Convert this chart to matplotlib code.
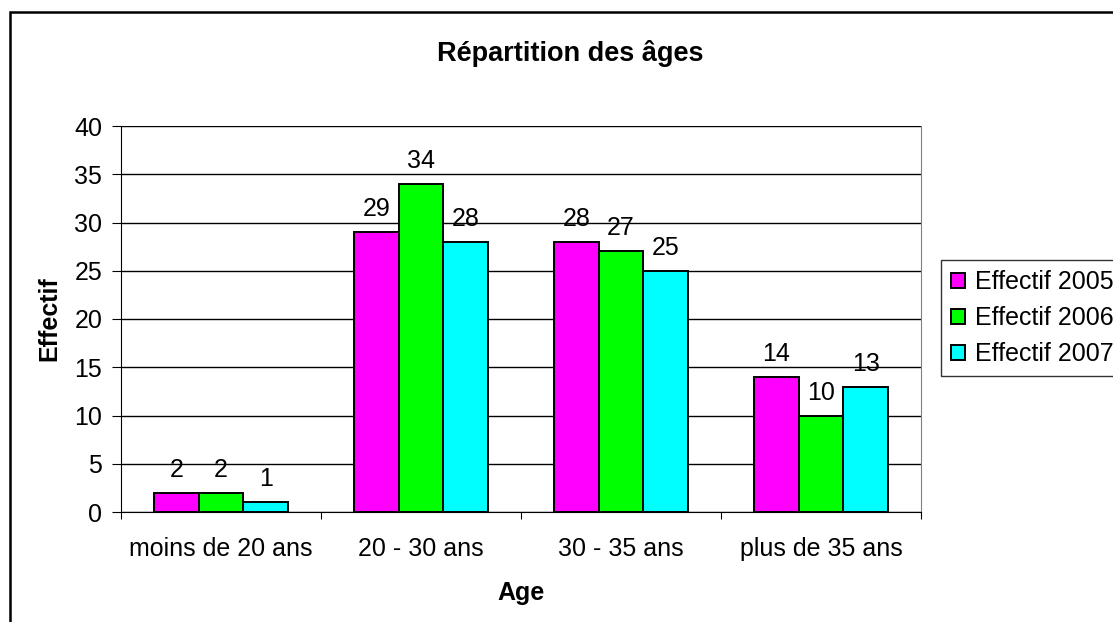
import numpy as np
import matplotlib
matplotlib.use("Agg")
import matplotlib.pyplot as plt
from matplotlib.patches import Rectangle

plt.rcParams['font.family'] = ['Liberation Sans', 'DejaVu Sans']

# data
categories = ["moins de 20 ans", "20 - 30 ans", "30 - 35 ans", "plus de 35 ans"]
series_names = ["Effectif 2005", "Effectif 2006", "Effectif 2007"]
effectif_2005 = [2, 29, 28, 14]
effectif_2006 = [2, 34, 27, 10]
effectif_2007 = [1, 28, 25, 13]
colors = ["#FF00FF", "#00FF00", "#00FFFF"]

W, H = 1113, 622
FS = 18
fig = plt.figure(figsize=(W / 100, H / 100), dpi=100)
ax = fig.add_axes([121 / W, 1 - 512 / H, (921 - 121) / W, (512 - 126) / H])

x = np.arange(len(categories))
width = 0.223
all_series = [effectif_2005, effectif_2006, effectif_2007]
for i, (vals, name, col) in enumerate(zip(all_series, series_names, colors)):
    pos = x + (i - 1) * width
    ax.bar(pos, vals, width, color=col, edgecolor="black", linewidth=1.4,
           label=name, zorder=3)
    for px, v in zip(pos, vals):
        ax.annotate(str(v), (px, v), xytext=(0, 11.5), textcoords="offset points",
                    ha="center", va="baseline", fontsize=FS)

ax.set_ylim(0, 40)
ax.set_yticks(range(0, 41, 5))
ax.yaxis.grid(True, color="black", linewidth=1)
ax.set_axisbelow(True)
ax.tick_params(axis="y", direction="out", length=6.5, labelsize=FS, pad=7)

ax.set_xlim(-0.5, len(categories) - 0.5)
ax.set_xticks(np.arange(-0.5, len(categories)), labels=[""] * (len(categories) + 1))
ax.set_xticks(x, labels=categories, minor=True)
ax.tick_params(axis="x", which="major", direction="out", length=5)
ax.tick_params(axis="x", which="minor", length=0, labelsize=FS, pad=18)

for s in ["left", "bottom"]:
    ax.spines[s].set_color("black")
ax.spines["right"].set_color("#808080")
ax.spines["top"].set_visible(False)

ax.set_ylabel("Effectif", fontsize=FS, fontweight="bold")
ax.yaxis.set_label_coords(61 / W, 1 - 319 / H, transform=fig.transFigure)
ax.set_xlabel("Age", fontsize=FS, fontweight="bold")
ax.xaxis.set_label_coords(521 / W, 1 - 593 / H, transform=fig.transFigure)
ax.xaxis.label.set_va("center")
fig.text(570 / W, 1 - 61 / H, "Répartition des âges", ha="center", va="baseline",
         fontsize=19.5, fontweight="bold")

leg = fig.legend(loc="upper left", bbox_to_anchor=(941 / W, 1 - 260 / H),
                 frameon=True, fancybox=False, edgecolor="black", fontsize=FS,
                 handlelength=0.56, handleheight=0.56, handletextpad=0.4,
                 borderaxespad=0, labelspacing=0.48, borderpad=0.4)
leg.get_frame().set_linewidth(1)

fig.add_artist(Rectangle((10 / W, -0.1), 1.2, 1.1 - 12 / H, transform=fig.transFigure,
                         fill=False, edgecolor="black", linewidth=1.8, clip_on=False))

fig.savefig("out.png", dpi=100)
